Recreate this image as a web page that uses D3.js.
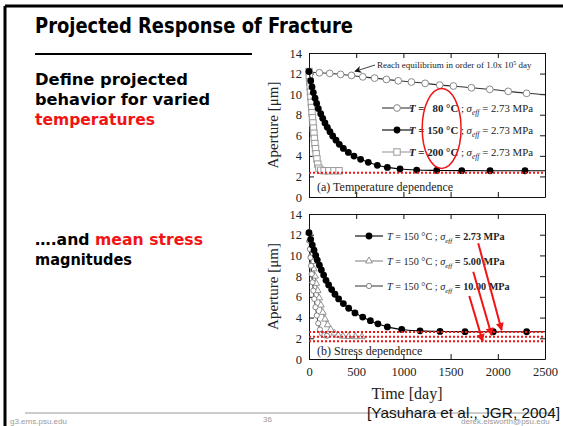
<!DOCTYPE html>
<html>
<head>
<meta charset="utf-8">
<script src="https://cdn.jsdelivr.net/npm/d3@7"></script>
<style>
  html, body { margin: 0; padding: 0; background: #fff; }
  svg { display: block; }
  text { white-space: pre; }
</style>
</head>
<body>
<svg id="slide" width="563" height="426"></svg>
<script>
// ---------- slide text ----------
const slideTitle = "Projected Response of Fracture";
const bulletTemp = ["Define projected", "behavior for varied"];
const bulletTempRed = "temperatures";
const bulletStressLead = "\u2026.and ";
const bulletStressRed = "mean stress";
const bulletStressTail = "magnitudes";
const citation = "[Yasuhara et al., JGR, 2004]";
const footer = ["g3.ems.psu.edu", "36", "derek.elsworth@psu.edu"];

// ---------- axes ----------
const xDomain = [0, 2500];
const yDomain = [0, 14];
const xTicks = [0, 500, 1000, 1500, 2000, 2500];
const yTicks = [0, 2, 4, 6, 8, 10, 12, 14];
const xTitle = "Time [day]";
const yTitle = "Aperture [\u03bcm]";

// ---------- panel (a): temperature dependence ----------
const tempLabels = ["\u200780", "150", "200"];
const tempStress = "2.73";

const t80Days = [0, 110, 220, 335, 450, 570, 695, 820, 945, 1085, 1230, 1385, 1530, 1720, 1915, 2110, 2305];
const t80Aperture = [12.15, 12.08, 12.02, 11.92, 11.82, 11.68, 11.56, 11.43, 11.30, 11.18, 11.05, 10.88, 10.79, 10.62, 10.47, 10.27, 10.08];
const t80LineEnd = [2500, 9.95];

const t150Days = [0, 18, 32, 46, 64, 81, 99, 124, 145, 169, 194, 222, 251, 286, 321, 364, 417, 477, 547, 628, 724, 830, 964, 1141, 1353, 1618, 1918, 2288];
const t150Aperture = [12.2, 11.3, 10.7, 10.15, 9.6, 9.1, 8.6, 8.1, 7.65, 7.2, 6.77, 6.35, 5.93, 5.52, 5.12, 4.72, 4.33, 3.98, 3.66, 3.37, 3.08, 2.88, 2.72, 2.62, 2.58, 2.56, 2.55, 2.55];
const t150LineEnd = [2500, 2.55];

const t200Days = [0, 4, 8, 12, 16, 20, 24, 28, 32, 37, 42, 47, 52, 57, 63, 69, 76, 84, 93, 105, 125, 160, 210, 265, 318];
const t200Aperture = [12.2, 11.7, 11.2, 10.7, 10.2, 9.7, 9.2, 8.7, 8.2, 7.7, 7.2, 6.7, 6.2, 5.7, 5.2, 4.7, 4.2, 3.7, 3.2, 2.8, 2.6, 2.55, 2.55, 2.55, 2.55];

const tempEquilibrium = 2.36;
const equilibriumNote = ["Reach equilibrium in order of 1.0x 10", "5", " day"];

// ---------- panel (b): stress dependence ----------
const stressLabels = ["2.73", "5.00", "10.00"];
const stressTemp = "150";

const s273Days = [0, 18, 35, 53, 71, 88, 110, 131, 155, 180, 208, 240, 275, 314, 364, 420, 487, 569, 650, 730, 830, 982, 1176, 1388, 1653, 1952, 2306];
const s273Aperture = [12.2, 11.55, 11.0, 10.5, 10.0, 9.55, 9.05, 8.6, 8.1, 7.6, 7.15, 6.7, 6.25, 5.8, 5.35, 4.9, 4.45, 4.05, 3.7, 3.4, 3.1, 2.85, 2.72, 2.66, 2.64, 2.63, 2.63];
const s273LineEnd = [2500, 2.63];

const s500Days = [0, 8, 17, 27, 38, 50, 63, 77, 92, 108, 126, 146, 170, 198, 230, 268, 310, 360, 420, 490, 560];
const s500Aperture = [12.2, 11.5, 10.8, 10.1, 9.4, 8.7, 8.0, 7.3, 6.6, 5.9, 5.2, 4.5, 3.85, 3.3, 2.85, 2.5, 2.3, 2.2, 2.17, 2.15, 2.15];

const s1000Days = [0, 5, 10, 16, 22, 29, 37, 46, 56, 68, 82, 98, 116, 138, 162, 190];
const s1000Aperture = [12.2, 11.4, 10.6, 9.8, 9.0, 8.2, 7.4, 6.6, 5.8, 5.0, 4.2, 3.45, 2.85, 2.45, 2.3, 2.25];

const stressEquilibrium = [2.61, 2.15, 1.71];
// red pointers: [fromDay, fromAperture, toDay, toAperture]
const stressPointers = [
  [1793, 11.17, 2041, 2.78],
  [1740, 8.43, 1935, 2.3],
  [1698, 6.08, 1840, 1.7]
];
// callout in panel (a): [fromDay, fromAperture, toDay, toAperture]
const notePointer = [699, 12.83, 487, 12.22];
// highlight ring around the temperature labels: [centreDay, centreAperture, halfWidthDays, halfHeight]
const tempRing = [1405, 6.67, 206, 3.89];

// ---------- drawing ----------
const serif = "'Liberation Serif', 'Times New Roman', serif";
const sans = "'Liberation Sans', Arial, sans-serif";
const slideFont = "'DejaVu Sans', 'Noto Sans', sans-serif";
const RED = "#f01414";

const svg = d3.select("#slide");

// slide frame
svg.append("line").attr("x1", 5).attr("y1", 6).attr("x2", 563).attr("y2", 6)
  .attr("stroke", "#000").attr("stroke-width", 3);
svg.append("line").attr("x1", 5).attr("y1", 6).attr("x2", 5).attr("y2", 426)
  .attr("stroke", "#000").attr("stroke-width", 3);

// title + underline
svg.append("text").attr("x", 35).attr("y", 33)
  .attr("font-family", slideFont).attr("font-weight", "bold").attr("font-size", 21)
  .attr("textLength", 318).attr("lengthAdjust", "spacingAndGlyphs")
  .text(slideTitle);
svg.append("line").attr("x1", 35).attr("x2", 252).attr("y1", 54).attr("y2", 54)
  .attr("stroke", "#000").attr("stroke-width", 2);

// bullet text
function slideLine(y, parts, len) {
  const t = svg.append("text").attr("x", 35).attr("y", y)
    .attr("font-family", slideFont).attr("font-weight", "bold").attr("font-size", 15.5)
    .attr("textLength", len).attr("lengthAdjust", "spacingAndGlyphs");
  parts.forEach(p => t.append("tspan").attr("fill", p.color || "#000").text(p.text));
}
slideLine(85, [{ text: bulletTemp[0] }], 153);
slideLine(105, [{ text: bulletTemp[1] }], 175);
slideLine(125, [{ text: bulletTempRed, color: RED }], 120);
slideLine(245, [{ text: bulletStressLead }, { text: bulletStressRed, color: RED }], 168);
slideLine(265, [{ text: bulletStressTail }], 97);

// ---------- panel helpers ----------
const x = d3.scaleLinear().domain(xDomain).range([309, 545]);
const yA = d3.scaleLinear().domain(yDomain).range([197, 53]);
const yB = d3.scaleLinear().domain(yDomain).range([359, 214]);

function frame(y, withXLabels) {
  const g = svg.append("g");
  const [x0, x1] = x.range();
  const [yb, yt] = y.range();
  const styleAxis = sel => {
    sel.select(".domain").attr("stroke", "#111").attr("stroke-width", 1);
    sel.selectAll(".tick line").attr("stroke", "#111");
    sel.selectAll(".tick text").attr("font-family", serif).attr("font-size", 12.5).attr("fill", "#222");
  };
  g.append("g").attr("transform", `translate(${x0},0)`)
    .call(d3.axisLeft(y).tickValues(yTicks).tickSize(-5).tickSizeOuter(0).tickPadding(7).tickFormat(d3.format("d")))
    .call(styleAxis);
  g.append("g").attr("transform", `translate(${x1},0)`)
    .call(d3.axisRight(y).tickValues(yTicks).tickSize(-5).tickSizeOuter(0).tickFormat(""))
    .call(styleAxis);
  g.append("g").attr("transform", `translate(0,${yt})`)
    .call(d3.axisTop(x).tickValues(xTicks).tickSize(-5).tickSizeOuter(0).tickFormat(""))
    .call(styleAxis);
  const bottom = d3.axisBottom(x).tickValues(xTicks).tickSize(-5).tickSizeOuter(0).tickPadding(8)
    .tickFormat(withXLabels ? d3.format("d") : "");
  g.append("g").attr("transform", `translate(0,${yb})`).call(bottom).call(styleAxis);
  // y title
  svg.append("text")
    .attr("transform", `translate(278,${(yb + yt) / 2}) rotate(-90)`)
    .attr("text-anchor", "middle").attr("font-family", serif).attr("font-size", 15).attr("fill", "#222")
    .text(yTitle);
  return g;
}

function marker(g, kind, cx, cy) {
  if (kind === "circleOpen") {
    g.append("circle").attr("cx", cx).attr("cy", cy).attr("r", 3.4)
      .attr("fill", "#fff").attr("stroke", "#888").attr("stroke-width", 1);
  } else if (kind === "circleFilled") {
    g.append("circle").attr("cx", cx).attr("cy", cy).attr("r", 3.4).attr("fill", "#000");
  } else if (kind === "square") {
    g.append("rect").attr("x", cx - 3.2).attr("y", cy - 3.2).attr("width", 6.4).attr("height", 6.4)
      .attr("fill", "#fff").attr("stroke", "#999").attr("stroke-width", 1);
  } else if (kind === "triangle") {
    g.append("path").attr("d", d3.symbol(d3.symbolTriangle).size(20)())
      .attr("transform", `translate(${cx},${cy})`)
      .attr("fill", "#fff").attr("stroke", "#888").attr("stroke-width", 0.9);
  } else if (kind === "circleSmall") {
    g.append("circle").attr("cx", cx).attr("cy", cy).attr("r", 2.6)
      .attr("fill", "#fff").attr("stroke", "#777").attr("stroke-width", 0.9);
  }
}

function series(y, days, values, kind, lineColor, lineEnd) {
  const pts = days.map((d, i) => [d, values[i]]);
  const linePts = lineEnd ? pts.concat([lineEnd]) : pts;
  const g = svg.append("g");
  g.append("path").datum(linePts)
    .attr("d", d3.line().x(d => x(d[0])).y(d => y(d[1])).curve(d3.curveMonotoneX))
    .attr("fill", "none").attr("stroke", lineColor).attr("stroke-width", 1.1);
  pts.forEach(p => marker(g, kind, x(p[0]), y(p[1])));
}

function equilibrium(y, value) {
  svg.append("line").attr("x1", x(xDomain[0])).attr("x2", x(xDomain[1]))
    .attr("y1", y(value)).attr("y2", y(value))
    .attr("stroke", RED).attr("stroke-width", 2).attr("stroke-dasharray", "2,2");
}

function legendRow(cy, lx0, lx1, kind, lineColor, tx, parts, size) {
  const g = svg.append("g");
  g.append("line").attr("x1", lx0).attr("x2", lx1).attr("y1", cy).attr("y2", cy)
    .attr("stroke", lineColor).attr("stroke-width", 1.1);
  marker(g, kind, (lx0 + lx1) / 2, cy);
  const t = g.append("text").attr("x", tx).attr("y", cy + 4)
    .attr("font-family", serif).attr("font-size", size).attr("fill", "#222");
  let shifted = false;
  parts.forEach(p => {
    const s = t.append("tspan").text(p.text);
    if (p.bold) s.attr("font-weight", "bold");
    if (p.italic) s.attr("font-style", "italic");
    if (p.sub) { s.attr("dy", 3).attr("font-size", size * 0.7); shifted = true; }
    else if (shifted) { s.attr("dy", -3); shifted = false; }
  });
}

// ---------- panel (a) ----------
frame(yA, false);
series(yA, t80Days, t80Aperture, "circleOpen", "#333", t80LineEnd);
series(yA, t200Days, t200Aperture, "square", "#999", null);
series(yA, t150Days, t150Aperture, "circleFilled", "#000", t150LineEnd);
equilibrium(yA, tempEquilibrium);

const legendA = [
  { kind: "circleOpen", color: "#333" },
  { kind: "circleFilled", color: "#000" },
  { kind: "square", color: "#999" }
];
[108, 130, 152].forEach((cy, i) => {
  legendRow(cy, 382, 412, legendA[i].kind, legendA[i].color, 409, [
    { text: "T", bold: true, italic: true },
    { text: " = ", bold: true },
    { text: tempLabels[i] + " \u00b0C", bold: true },
    { text: " ; " },
    { text: "\u03c3", italic: true },
    { text: "eff", italic: true, sub: true },
    { text: " = " + tempStress + " MPa" }
  ], 10.8);
});

svg.append("text").attr("x", 317).attr("y", 191)
  .attr("font-family", serif).attr("font-size", 12).attr("fill", "#222")
  .text("(a) Temperature dependence");

// callout
const note = svg.append("text").attr("x", 377).attr("y", 68)
  .attr("font-family", serif).attr("font-size", 9).attr("fill", "#222");
note.append("tspan").text(equilibriumNote[0]);
note.append("tspan").attr("dy", -3).attr("font-size", 6).text(equilibriumNote[1]);
note.append("tspan").attr("dy", 3).text(equilibriumNote[2]);

const defs = svg.append("defs");
defs.append("marker").attr("id", "headBlack").attr("viewBox", "0 0 10 10")
  .attr("refX", 9).attr("refY", 5).attr("markerWidth", 7).attr("markerHeight", 7)
  .attr("orient", "auto").attr("markerUnits", "userSpaceOnUse")
  .append("path").attr("d", "M0,0 L10,5 L0,10 L3,5 Z").attr("fill", "#111");
defs.append("marker").attr("id", "headRed").attr("viewBox", "0 0 10 10")
  .attr("refX", 9).attr("refY", 5).attr("markerWidth", 9).attr("markerHeight", 8)
  .attr("orient", "auto").attr("markerUnits", "userSpaceOnUse")
  .append("path").attr("d", "M0,0 L10,5 L0,10 Z").attr("fill", RED);

svg.append("line")
  .attr("x1", x(notePointer[0])).attr("y1", yA(notePointer[1]))
  .attr("x2", x(notePointer[2])).attr("y2", yA(notePointer[3]))
  .attr("stroke", "#111").attr("stroke-width", 0.8).attr("marker-end", "url(#headBlack)");

// ring around temperature labels
svg.append("ellipse")
  .attr("cx", x(tempRing[0])).attr("cy", yA(tempRing[1]))
  .attr("rx", x(tempRing[2]) - x(0)).attr("ry", yA(0) - yA(tempRing[3]))
  .attr("fill", "none").attr("stroke", RED).attr("stroke-width", 1.5);

// ---------- panel (b) ----------
frame(yB, true);
series(yB, s500Days, s500Aperture, "triangle", "#888", null);
series(yB, s1000Days, s1000Aperture, "circleSmall", "#444", null);
series(yB, s273Days, s273Aperture, "circleFilled", "#000", s273LineEnd);
stressEquilibrium.forEach(v => equilibrium(yB, v));

const legendB = [
  { kind: "circleFilled", color: "#000" },
  { kind: "triangle", color: "#888" },
  { kind: "circleSmall", color: "#444" }
];
[236, 261, 286].forEach((cy, i) => {
  legendRow(cy, 355, 383, legendB[i].kind, legendB[i].color, 387, [
    { text: "T", italic: true },
    { text: " = " + stressTemp + " \u00b0C ; " },
    { text: "\u03c3", italic: true },
    { text: "eff", italic: true, sub: true },
    { text: " = " + stressLabels[i] + " MPa", bold: true }
  ], 10.2);
});

stressPointers.forEach(p => {
  svg.append("line")
    .attr("x1", x(p[0])).attr("y1", yB(p[1]))
    .attr("x2", x(p[2])).attr("y2", yB(p[3]))
    .attr("stroke", RED).attr("stroke-width", 2).attr("marker-end", "url(#headRed)");
});

svg.append("text").attr("x", 317).attr("y", 355)
  .attr("font-family", serif).attr("font-size", 12).attr("fill", "#222")
  .text("(b) Stress dependence");

// x title
svg.append("text").attr("x", 407).attr("y", 399).attr("text-anchor", "middle")
  .attr("font-family", serif).attr("font-size", 16).attr("fill", "#222")
  .text(xTitle);

// ---------- footer ----------
svg.append("line").attr("x1", 25).attr("x2", 555).attr("y1", 413).attr("y2", 413)
  .attr("stroke", "#9a9a9a").attr("stroke-width", 1);
svg.append("text").attr("x", 10).attr("y", 424).attr("font-family", sans).attr("font-size", 8).attr("fill", "#999").text(footer[0]);
svg.append("text").attr("x", 263).attr("y", 422).attr("font-family", sans).attr("font-size", 8).attr("fill", "#999").text(footer[1]);
svg.append("text").attr("x", 461).attr("y", 424).attr("font-family", sans).attr("font-size", 8).attr("fill", "#999").text(footer[2]);
svg.append("text").attr("x", 367).attr("y", 418)
  .attr("font-family", sans).attr("font-size", 15).attr("fill", "#111")
  .attr("textLength", 193).attr("lengthAdjust", "spacingAndGlyphs")
  .text(citation);
</script>
</body>
</html>
